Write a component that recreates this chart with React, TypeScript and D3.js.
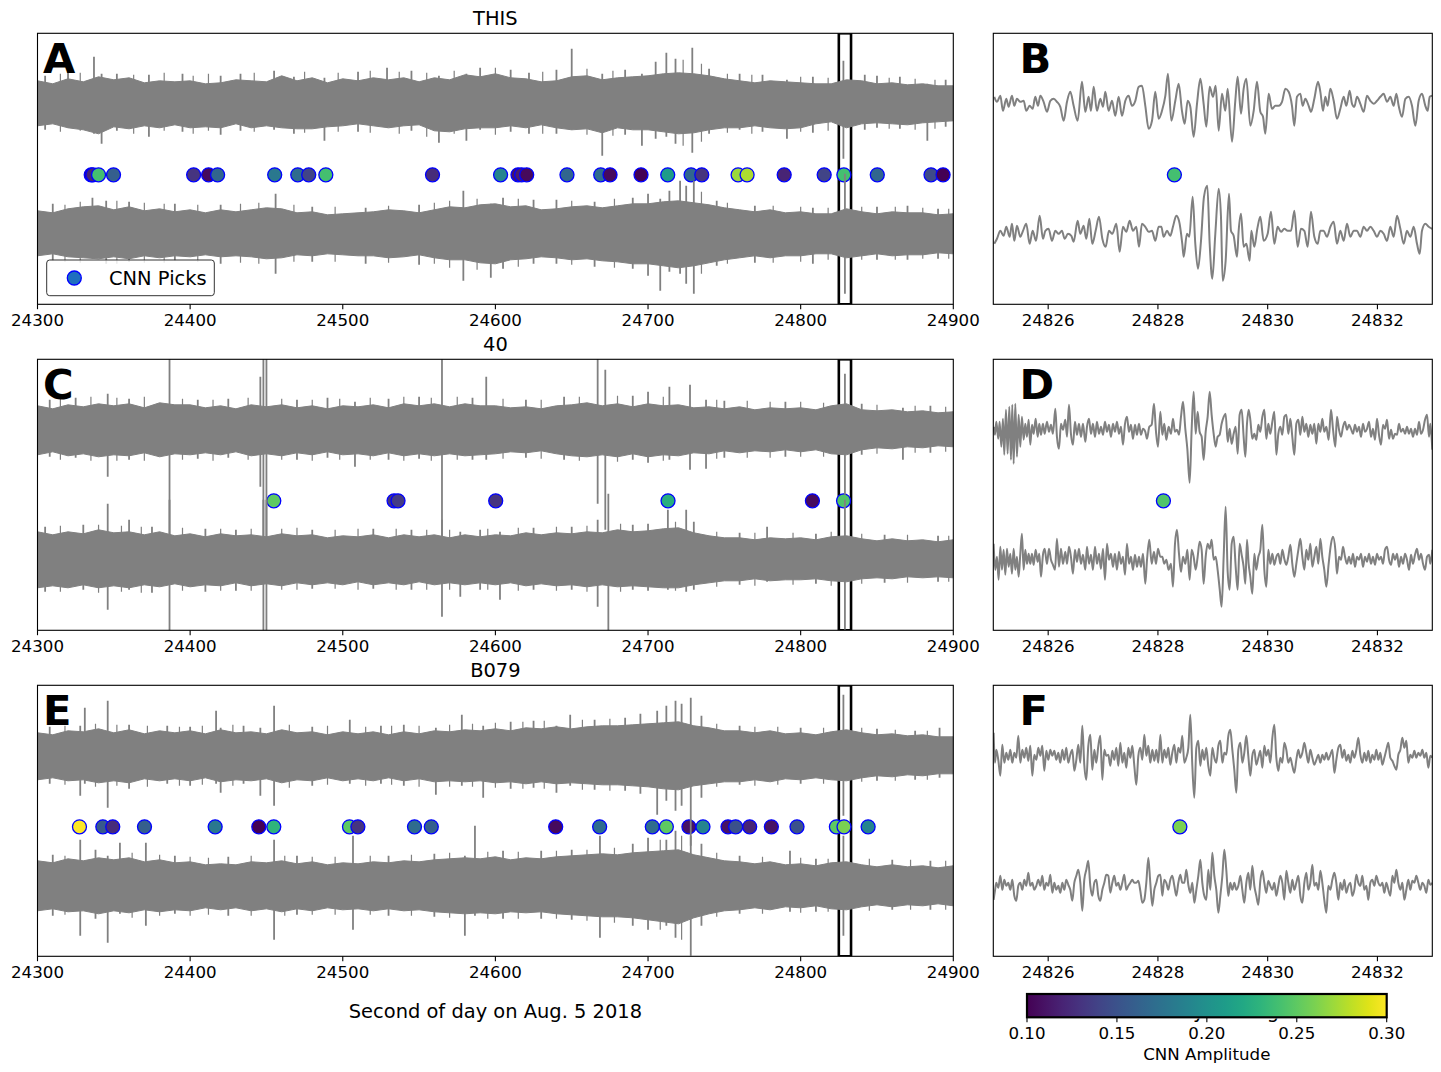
import React from "react";
import * as d3 from "d3";

// ---------------- data ----------------
const STATIONS = ["THIS", "40", "B079"];
const LEFT_LETTERS = ["A", "C", "E"];
const RIGHT_LETTERS = ["B", "D", "F"];
const FULL_RANGE = [24300, 24900];
const ZOOM_RANGE = [24825, 24833];
const FULL_TICKS = [24300, 24400, 24500, 24600, 24700, 24800, 24900];
const ZOOM_TICKS = [24826, 24828, 24830, 24832];
const AMP_RANGE = [0.1, 0.3];
const AMP_TICKS = [0.1, 0.15, 0.2, 0.25, 0.3];
const X_LABEL = "Second of day on Aug. 5 2018";
const CBAR_LABEL = "CNN Amplitude";
const LEGEND_LABEL = "CNN Picks";

// envelope sample times for the 10-minute traces (s)
const ENV_TIMES = [24300, 24310, 24320, 24330, 24340, 24350, 24360, 24370, 24380, 24390, 24400, 24410, 24420, 24430, 24440, 24450, 24460, 24470, 24480, 24490, 24500, 24510, 24520, 24530, 24540, 24550, 24560, 24570, 24580, 24590, 24600, 24610, 24620, 24630, 24640, 24650, 24660, 24670, 24680, 24690, 24700, 24710, 24720, 24730, 24740, 24750, 24760, 24770, 24780, 24790, 24800, 24810, 24820, 24830, 24840, 24850, 24860, 24870, 24880, 24890, 24900];

// THIS
const THIS_UPPER_TOP = [23, 20, 25, 22, 27, 24, 26, 21, 23, 22, 23, 20, 21, 24, 23, 22, 28, 23, 26, 21, 25, 23, 26, 24, 26, 22, 26, 24, 29, 27, 30, 26, 25, 22, 23, 27, 28, 24, 26, 27, 28, 30, 31, 30, 28, 25, 23, 21, 23, 22, 21, 20, 20, 24, 23, 20, 21, 19, 20, 18, 18];
const THIS_UPPER_BOT = [22, 20, 24, 26, 30, 23, 25, 22, 24, 21, 24, 23, 24, 20, 24, 22, 24, 25, 25, 23, 22, 20, 22, 24, 22, 21, 27, 28, 25, 24, 24, 22, 24, 21, 24, 26, 25, 29, 24, 26, 26, 28, 30, 29, 26, 24, 24, 22, 24, 25, 24, 20, 18, 24, 20, 19, 20, 21, 19, 18, 17];
const THIS_UPPER_SPIKES = [[24305, 28, 26], [24320, 32, 24], [24337, 47, 30], [24342, 30, 40], [24352, 30, 27], [24373, 29, 33], [24395, 30, 28], [24420, 28, 31], [24433, 30, 27], [24455, 33, 26], [24468, 27, 30], [24488, 26, 37], [24510, 32, 28], [24529, 36, 24], [24545, 33, 27], [24563, 28, 39], [24581, 30, 37], [24590, 36, 26], [24610, 34, 28], [24622, 31, 30], [24640, 34, 30], [24650, 55, 26], [24670, 30, 52], [24685, 34, 31], [24696, 30, 42], [24705, 42, 35], [24712, 51, 33], [24718, 45, 40], [24729, 56, 49], [24740, 35, 30], [24760, 30, 26], [24775, 29, 28], [24791, 24, 35], [24808, 27, 29], [24828, 43, 55], [24842, 29, 26], [24850, 28, 24], [24865, 27, 25], [24883, 20, 37], [24895, 24, 23]];
const THIS_UPPER_FRINGE = [[24315, 30, 28], [24328, 31, 27], [24363, 29, 30], [24383, 31, 27], [24402, 28, 30], [24412, 30, 27], [24442, 31, 28], [24475, 32, 29], [24497, 31, 28], [24518, 33, 29], [24537, 32, 30], [24555, 31, 33], [24573, 33, 30], [24600, 36, 31], [24631, 32, 30], [24660, 35, 31], [24677, 33, 32], [24723, 44, 42], [24735, 40, 38], [24752, 30, 29], [24768, 29, 30], [24800, 27, 28], [24818, 26, 27], [24858, 26, 25], [24875, 25, 26], [24888, 24, 25]];
const THIS_LOWER_TOP = [23, 21, 25, 27, 28, 24, 27, 23, 25, 22, 24, 21, 24, 22, 24, 26, 25, 21, 22, 19, 20, 21, 22, 24, 23, 21, 24, 27, 26, 29, 30, 27, 28, 24, 25, 27, 28, 26, 28, 30, 30, 32, 33, 31, 29, 26, 24, 22, 24, 21, 22, 20, 20, 25, 22, 20, 22, 21, 21, 19, 20];
const THIS_LOWER_BOT = [22, 20, 23, 24, 25, 23, 25, 22, 24, 22, 23, 21, 23, 22, 23, 25, 24, 21, 22, 20, 21, 22, 22, 24, 23, 21, 24, 26, 26, 29, 30, 26, 25, 23, 24, 26, 25, 27, 28, 30, 30, 32, 34, 32, 29, 26, 24, 22, 24, 22, 22, 20, 20, 24, 22, 20, 22, 21, 21, 19, 20];
const THIS_LOWER_SPIKES = [[24310, 30, 27], [24336, 36, 25], [24345, 33, 30], [24360, 32, 28], [24390, 30, 27], [24420, 29, 30], [24456, 40, 40], [24480, 27, 28], [24515, 26, 30], [24550, 29, 31], [24579, 43, 47], [24597, 30, 44], [24605, 36, 35], [24625, 34, 30], [24640, 34, 30], [24665, 32, 33], [24690, 36, 35], [24700, 40, 42], [24708, 35, 57], [24714, 43, 38], [24721, 53, 40], [24725, 48, 50], [24730, 53, 60], [24745, 33, 32], [24770, 28, 29], [24808, 26, 30], [24829, 60, 60], [24850, 27, 26], [24870, 28, 26], [24890, 25, 25]];
const THIS_LOWER_FRINGE = [[24318, 29, 28], [24328, 32, 29], [24352, 33, 30], [24370, 31, 29], [24383, 30, 29], [24405, 29, 28], [24433, 30, 29], [24445, 31, 30], [24468, 29, 28], [24495, 27, 28], [24530, 28, 29], [24560, 31, 30], [24570, 33, 34], [24588, 35, 36], [24615, 35, 33], [24650, 33, 31], [24678, 35, 34], [24735, 42, 40], [24752, 31, 30], [24782, 28, 29], [24800, 27, 28], [24818, 26, 26], [24840, 27, 26], [24862, 27, 26], [24880, 26, 25], [24897, 25, 25]];
const THIS_PICK_TIMES = [24335.2, 24336.3, 24340.0, 24349.8, 24402.3, 24412.1, 24418.0, 24455.4, 24470.5, 24477.7, 24488.9, 24558.8, 24603.4, 24614.8, 24617.2, 24620.5, 24646.9, 24669.0, 24675.1, 24695.4, 24712.9, 24728.2, 24735.2, 24759.0, 24764.9, 24789.2, 24815.4, 24828.3, 24850.2, 24885.4, 24893.3];
const THIS_PICK_AMPS = [0.10, 0.12, 0.24, 0.16, 0.13, 0.105, 0.165, 0.18, 0.17, 0.14, 0.24, 0.125, 0.19, 0.11, 0.115, 0.105, 0.165, 0.17, 0.105, 0.10, 0.21, 0.165, 0.13, 0.27, 0.275, 0.12, 0.14, 0.24, 0.165, 0.145, 0.10];

// 40
const S40_UPPER_TOP = [24, 21, 25, 23, 26, 24, 26, 22, 27, 25, 25, 22, 24, 21, 25, 23, 25, 22, 24, 21, 24, 23, 25, 22, 26, 24, 26, 23, 26, 24, 24, 22, 23, 21, 24, 25, 27, 24, 26, 23, 26, 24, 25, 22, 23, 21, 23, 20, 22, 21, 22, 20, 24, 26, 20, 19, 20, 18, 19, 17, 18];
const S40_UPPER_BOT = [25, 22, 26, 24, 27, 25, 26, 23, 27, 24, 25, 23, 25, 22, 26, 24, 26, 23, 25, 22, 25, 24, 26, 23, 26, 24, 26, 24, 26, 25, 24, 22, 23, 21, 24, 26, 27, 25, 27, 24, 27, 25, 26, 23, 24, 21, 23, 21, 22, 20, 22, 20, 24, 25, 20, 18, 19, 17, 18, 16, 17];
const S40_UPPER_SPIKES = [[24308, 30, 27], [24325, 32, 28], [24346, 36, 47], [24360, 31, 30], [24386.5, 80, 135], [24405, 30, 29], [24425, 31, 28], [24446, 53, 57], [24448, 80, 135], [24450, 80, 135], [24470, 30, 30], [24490, 32, 28], [24508, 28, 37], [24530, 31, 30], [24550, 33, 29], [24565, 80, 135], [24585, 32, 30], [24594, 53, 30], [24620, 30, 28], [24645, 33, 30], [24667, 80, 74], [24672, 60, 100], [24690, 34, 30], [24700, 38, 33], [24714, 43, 30], [24727.5, 45, 40], [24738, 30, 39], [24750, 29, 28], [24790, 28, 27], [24829, 56, 65], [24840, 26, 25], [24867, 22, 30], [24885, 24, 23]];
const S40_UPPER_FRINGE = [[24315, 31, 30], [24335, 33, 31], [24352, 32, 31], [24370, 33, 31], [24395, 31, 30], [24415, 30, 31], [24438, 32, 30], [24460, 31, 30], [24480, 30, 31], [24498, 31, 30], [24518, 32, 30], [24540, 33, 31], [24558, 32, 31], [24575, 33, 30], [24605, 31, 29], [24630, 30, 29], [24655, 33, 31], [24680, 34, 32], [24710, 33, 31], [24745, 30, 29], [24765, 29, 28], [24780, 28, 28], [24800, 28, 27], [24815, 27, 27], [24850, 25, 24], [24875, 24, 23], [24895, 23, 22]];
const S40_LOWER_TOP = [28, 25, 28, 26, 30, 27, 28, 25, 28, 24, 26, 23, 26, 24, 25, 23, 26, 24, 25, 22, 24, 23, 25, 22, 25, 23, 25, 22, 25, 23, 25, 24, 27, 25, 27, 26, 28, 27, 30, 28, 29, 31, 32, 27, 24, 22, 22, 20, 22, 21, 22, 20, 23, 24, 21, 19, 21, 19, 20, 18, 20];
const S40_LOWER_BOT = [28, 26, 28, 25, 28, 26, 28, 25, 27, 24, 27, 25, 26, 23, 26, 24, 26, 23, 25, 23, 25, 22, 25, 23, 25, 22, 25, 23, 25, 23, 25, 23, 26, 24, 26, 25, 27, 25, 27, 26, 27, 28, 28, 25, 23, 21, 21, 19, 21, 20, 20, 19, 21, 22, 19, 18, 19, 17, 18, 17, 18];
const S40_LOWER_SPIKES = [[24305, 33, 32], [24330, 35, 30], [24346, 56, 50], [24360, 40, 30], [24375, 33, 33], [24386.5, 60, 75], [24410, 31, 32], [24430, 30, 31], [24448, 60, 75], [24450, 60, 75], [24480, 30, 29], [24520, 31, 29], [24545, 30, 30], [24565, 40, 57], [24577, 28, 37], [24590, 30, 30], [24603, 28, 40], [24625, 32, 30], [24650, 33, 30], [24667, 40, 47], [24674, 66, 75], [24690, 35, 30], [24700, 36, 31], [24713, 50, 30], [24725, 50, 32], [24730, 38, 30], [24760, 27, 25], [24778, 33, 22], [24810, 26, 24], [24829, 60, 70], [24855, 25, 23], [24890, 24, 22]];
const S40_LOWER_FRINGE = [[24315, 34, 32], [24340, 35, 33], [24355, 34, 32], [24368, 33, 33], [24395, 32, 31], [24420, 31, 31], [24440, 31, 31], [24460, 31, 30], [24470, 32, 30], [24495, 30, 29], [24510, 31, 30], [24535, 31, 30], [24555, 30, 30], [24570, 30, 30], [24595, 31, 30], [24615, 32, 31], [24640, 33, 31], [24660, 34, 32], [24682, 36, 32], [24718, 38, 31], [24745, 28, 27], [24770, 27, 26], [24795, 27, 25], [24820, 28, 26], [24840, 26, 24], [24870, 25, 23], [24897, 24, 22]];
const S40_PICK_TIMES = [24454.8, 24533.6, 24536.2, 24600.2, 24713.1, 24807.7, 24828.1];
const S40_PICK_AMPS = [0.25, 0.13, 0.135, 0.13, 0.225, 0.105, 0.245];

// B079
const B079_UPPER_TOP = [23, 21, 25, 24, 27, 23, 26, 22, 25, 23, 25, 22, 26, 23, 24, 22, 26, 23, 24, 21, 24, 22, 24, 21, 24, 22, 25, 24, 26, 25, 27, 25, 28, 27, 29, 27, 29, 30, 30, 31, 32, 33, 34, 30, 28, 25, 25, 23, 25, 22, 23, 21, 24, 26, 23, 21, 22, 20, 21, 19, 19];
const B079_UPPER_BOT = [24, 22, 25, 24, 27, 25, 27, 23, 25, 23, 25, 22, 26, 24, 25, 23, 27, 24, 25, 22, 25, 23, 25, 22, 25, 23, 26, 25, 26, 25, 27, 26, 28, 26, 28, 27, 28, 29, 29, 30, 31, 33, 34, 30, 28, 26, 26, 24, 26, 23, 24, 22, 24, 25, 22, 20, 21, 19, 20, 18, 18];
const B079_UPPER_SPIKES = [[24308, 29, 28], [24328, 30, 40], [24331, 48, 28], [24346, 55, 52], [24360, 31, 33], [24385, 30, 28], [24400, 29, 30], [24417, 45, 28], [24420, 28, 37], [24435, 30, 28], [24446, 28, 40], [24455, 50, 50], [24480, 29, 30], [24504.6, 36, 28], [24525, 30, 28], [24540, 31, 30], [24561, 28, 39], [24578, 41, 30], [24592, 30, 42], [24610, 34, 33], [24625, 35, 32], [24640, 30, 37], [24649, 41, 30], [24665, 36, 34], [24685, 38, 35], [24695, 42, 38], [24706, 45, 59], [24712, 50, 45], [24718, 55, 55], [24722, 52, 50], [24728, 58, 90], [24735, 40, 42], [24760, 30, 29], [24800, 28, 28], [24828, 61, 60], [24850, 27, 25], [24875, 25, 24], [24891, 28, 22]];
const B079_UPPER_FRINGE = [[24318, 30, 29], [24338, 32, 31], [24352, 31, 30], [24372, 30, 31], [24393, 29, 30], [24408, 30, 29], [24428, 31, 30], [24465, 31, 32], [24490, 30, 29], [24515, 29, 30], [24532, 30, 29], [24550, 30, 31], [24570, 31, 31], [24585, 32, 31], [24600, 33, 32], [24618, 34, 33], [24632, 35, 33], [24657, 36, 34], [24675, 37, 35], [24745, 32, 31], [24770, 29, 30], [24785, 29, 29], [24815, 28, 28], [24840, 28, 26], [24862, 26, 25], [24883, 25, 24]];
const B079_LOWER_TOP = [25, 23, 27, 25, 28, 26, 28, 24, 26, 23, 24, 21, 22, 21, 24, 23, 25, 22, 24, 21, 23, 22, 24, 23, 25, 24, 26, 27, 28, 27, 29, 26, 28, 27, 29, 30, 31, 32, 31, 33, 34, 35, 36, 31, 28, 25, 24, 22, 24, 21, 22, 20, 23, 24, 21, 19, 21, 19, 20, 18, 20];
const B079_LOWER_BOT = [25, 23, 26, 25, 28, 25, 27, 24, 26, 24, 25, 22, 24, 22, 25, 23, 26, 23, 25, 22, 24, 23, 25, 23, 25, 24, 26, 27, 28, 27, 28, 26, 27, 26, 28, 29, 30, 31, 31, 32, 34, 36, 38, 32, 28, 25, 24, 22, 24, 21, 22, 20, 23, 24, 21, 19, 21, 19, 20, 18, 20];
const B079_LOWER_SPIKES = [[24310, 31, 30], [24328, 46, 50], [24338, 36, 33], [24346, 30, 57], [24354, 43, 28], [24371, 43, 40], [24390, 30, 28], [24425, 29, 30], [24455, 46, 54], [24470, 30, 29], [24506.7, 50, 44], [24530, 30, 30], [24560, 32, 31], [24580, 30, 50], [24586.6, 60, 30], [24605, 35, 33], [24630, 35, 33], [24650, 36, 34], [24668.5, 50, 52], [24690, 42, 40], [24700, 48, 44], [24712, 46, 40], [24718, 55, 52], [24728, 50, 70], [24735, 42, 40], [24760, 30, 28], [24793, 35, 26], [24810, 27, 26], [24828, 50, 50], [24860, 26, 24], [24885, 25, 24]];
const B079_LOWER_FRINGE = [[24318, 30, 29], [24362, 33, 32], [24380, 31, 30], [24400, 29, 30], [24412, 28, 29], [24440, 30, 30], [24462, 30, 30], [24480, 29, 29], [24495, 29, 29], [24518, 30, 29], [24545, 31, 30], [24570, 33, 32], [24595, 34, 33], [24615, 34, 33], [24640, 35, 33], [24660, 36, 35], [24678, 38, 37], [24708, 46, 44], [24722, 50, 54], [24745, 33, 31], [24775, 29, 28], [24800, 28, 27], [24818, 27, 26], [24845, 27, 25], [24872, 26, 24], [24895, 25, 24]];
const B079_PICK_TIMES = [24327.5, 24342.8, 24349.3, 24370.1, 24416.4, 24445.0, 24454.8, 24504.4, 24509.9, 24547.0, 24558.0, 24639.5, 24668.3, 24702.8, 24712.0, 24726.8, 24736.0, 24752.4, 24757.4, 24766.6, 24780.8, 24797.6, 24823.4, 24828.4, 24844.2];
const B079_PICK_AMPS = [0.30, 0.155, 0.125, 0.16, 0.18, 0.10, 0.23, 0.25, 0.13, 0.17, 0.16, 0.105, 0.17, 0.17, 0.25, 0.11, 0.19, 0.11, 0.15, 0.12, 0.11, 0.15, 0.25, 0.26, 0.19];

// zoomed traces: [seconds after 24825, amplitude]
const THIS_ZOOM_UPPER = [[0.018,7],[0.067,2],[0.128,8],[0.176,-7],[0.237,5],[0.279,-3],[0.340,8],[0.383,-2],[0.431,5],[0.492,2],[0.553,3],[0.601,-7],[0.662,-2],[0.717,-5],[0.765,7],[0.814,-2],[0.857,8],[0.917,2],[0.978,-8],[1.039,3],[1.100,5],[1.160,2],[1.221,-3],[1.282,-17],[1.343,2],[1.403,12],[1.464,-2],[1.537,-17],[1.616,22],[1.677,-8],[1.737,7],[1.780,-7],[1.829,17],[1.889,-7],[1.950,5],[1.999,-3],[2.041,12],[2.102,-7],[2.163,3],[2.223,-12],[2.284,7],[2.345,-12],[2.406,3],[2.466,8],[2.527,-2],[2.588,3],[2.649,17],[2.709,18],[2.770,-2],[2.831,-25],[2.892,-17],[2.952,12],[3.013,-15],[3.074,-7],[3.135,8],[3.183,30],[3.244,-17],[3.317,3],[3.378,20],[3.438,-7],[3.487,-20],[3.542,3],[3.590,-3],[3.651,-33],[3.712,0],[3.773,25],[3.833,0],[3.882,-23],[3.943,17],[4.003,7],[4.052,18],[4.107,-27],[4.167,10],[4.228,-7],[4.271,15],[4.350,-38],[4.410,3],[4.453,27],[4.514,-10],[4.562,15],[4.611,25],[4.684,-22],[4.745,-7],[4.805,22],[4.866,-8],[4.915,-13],[4.957,-30],[5.018,10],[5.079,-5],[5.139,-2],[5.200,-2],[5.261,2],[5.322,15],[5.382,12],[5.443,-2],[5.486,-22],[5.534,7],[5.595,10],[5.638,-2],[5.686,5],[5.747,-2],[5.790,-8],[5.850,5],[5.917,22],[5.960,12],[6.008,-7],[6.051,7],[6.093,-2],[6.142,15],[6.203,3],[6.263,-15],[6.324,-5],[6.385,7],[6.433,-2],[6.494,13],[6.537,0],[6.579,-3],[6.628,7],[6.689,0],[6.749,-8],[6.810,8],[6.871,3],[6.932,0],[6.992,3],[7.053,7],[7.114,10],[7.175,2],[7.235,7],[7.296,-2],[7.345,10],[7.387,-2],[7.448,-13],[7.509,5],[7.569,7],[7.630,-2],[7.691,-22],[7.752,3],[7.812,10],[7.873,-2],[7.916,-7],[7.952,7],[8.000,8]];
const THIS_ZOOM_LOWER = [[0.018,-10],[0.067,-5],[0.128,3],[0.188,-2],[0.237,7],[0.298,-3],[0.340,10],[0.383,-7],[0.431,8],[0.492,-3],[0.541,3],[0.601,10],[0.662,-10],[0.717,3],[0.778,-7],[0.845,18],[0.905,-5],[0.948,3],[1.008,5],[1.069,-7],[1.130,3],[1.191,0],[1.251,3],[1.300,-5],[1.361,0],[1.422,-2],[1.464,-8],[1.537,13],[1.586,0],[1.646,8],[1.695,-5],[1.750,15],[1.804,-10],[1.865,3],[1.926,17],[1.987,-5],[2.047,-13],[2.108,3],[2.169,0],[2.242,10],[2.302,-18],[2.363,7],[2.424,2],[2.485,13],[2.545,3],[2.606,7],[2.655,-13],[2.709,10],[2.770,7],[2.831,2],[2.892,3],[2.952,-7],[3.013,7],[3.062,7],[3.104,-3],[3.165,3],[3.226,-2],[3.274,7],[3.335,18],[3.384,13],[3.444,-10],[3.469,-23],[3.529,0],[3.572,-3],[3.633,37],[3.681,-10],[3.730,-35],[3.785,-7],[3.839,37],[3.900,48],[3.943,-10],[3.991,-45],[4.046,0],[4.107,45],[4.149,17],[4.180,-47],[4.234,-27],[4.295,40],[4.331,3],[4.380,-2],[4.441,-23],[4.471,3],[4.514,20],[4.562,-13],[4.611,-10],[4.672,-27],[4.702,3],[4.757,-13],[4.811,5],[4.866,17],[4.927,-7],[5.000,0],[5.060,22],[5.121,-10],[5.182,7],[5.243,2],[5.303,5],[5.364,3],[5.425,3],[5.486,23],[5.546,-13],[5.607,5],[5.668,3],[5.729,-13],[5.789,22],[5.850,-3],[5.911,-10],[5.960,3],[6.020,3],[6.081,-3],[6.142,7],[6.203,12],[6.263,-10],[6.324,3],[6.385,-7],[6.446,10],[6.506,-3],[6.567,3],[6.628,3],[6.689,-3],[6.749,7],[6.810,3],[6.871,7],[6.932,3],[6.992,-3],[7.053,3],[7.114,0],[7.175,-7],[7.235,7],[7.296,-3],[7.357,18],[7.418,5],[7.478,-10],[7.539,3],[7.600,-3],[7.661,7],[7.721,-10],[7.770,-20],[7.812,3],[7.873,10],[7.934,7],[8.000,5]];

const S40_ZOOM_UPPER = [[0.006,3],[0.030,-5],[0.055,8],[0.091,-9],[0.115,8],[0.146,-17],[0.176,11],[0.200,-25],[0.231,20],[0.261,-24],[0.292,23],[0.322,-30],[0.346,25],[0.371,-34],[0.401,26],[0.431,-27],[0.462,15],[0.492,-17],[0.522,13],[0.553,-10],[0.583,6],[0.614,-7],[0.644,10],[0.674,-15],[0.705,5],[0.735,-4],[0.772,11],[0.808,-7],[0.838,6],[0.869,-5],[0.905,6],[0.936,-4],[0.978,8],[1.015,-2],[1.051,5],[1.087,-4],[1.130,21],[1.160,-7],[1.197,-19],[1.233,6],[1.270,0],[1.312,10],[1.343,-7],[1.379,25],[1.415,-4],[1.452,-15],[1.488,8],[1.525,-5],[1.561,6],[1.598,-7],[1.634,6],[1.677,-12],[1.707,3],[1.744,11],[1.780,-4],[1.816,6],[1.853,-7],[1.889,8],[1.926,-4],[1.962,3],[1.999,-5],[2.035,8],[2.072,-2],[2.108,5],[2.144,-7],[2.181,6],[2.217,-2],[2.254,8],[2.290,-4],[2.327,3],[2.363,-15],[2.400,6],[2.436,13],[2.473,-2],[2.509,5],[2.545,-9],[2.582,5],[2.618,-5],[2.655,6],[2.691,-5],[2.728,1],[2.770,-2],[2.801,-9],[2.843,3],[2.886,5],[2.928,26],[2.965,-2],[3.001,-17],[3.044,18],[3.080,-5],[3.116,6],[3.153,-10],[3.195,3],[3.238,-4],[3.274,11],[3.311,-2],[3.347,0],[3.384,-5],[3.420,13],[3.457,28],[3.499,1],[3.536,-19],[3.578,-53],[3.615,1],[3.651,38],[3.688,-4],[3.724,18],[3.760,-2],[3.797,-7],[3.833,-30],[3.870,-2],[3.906,13],[3.943,38],[3.979,15],[4.016,-4],[4.052,-17],[4.088,-7],[4.125,-5],[4.161,6],[4.198,13],[4.234,16],[4.271,-12],[4.307,1],[4.344,-14],[4.380,-4],[4.417,3],[4.453,-24],[4.489,15],[4.526,20],[4.562,-7],[4.593,-27],[4.623,6],[4.653,20],[4.684,10],[4.720,-9],[4.757,-4],[4.793,-10],[4.830,5],[4.866,-2],[4.903,13],[4.939,20],[4.975,-9],[5.012,6],[5.048,-4],[5.085,8],[5.121,18],[5.158,-25],[5.194,-4],[5.231,3],[5.267,-5],[5.303,13],[5.340,15],[5.376,-4],[5.413,11],[5.449,-7],[5.486,-25],[5.522,6],[5.559,10],[5.595,-5],[5.632,13],[5.668,-2],[5.704,6],[5.741,-7],[5.777,5],[5.814,-4],[5.850,6],[5.887,-14],[5.923,6],[5.960,-2],[5.996,11],[6.032,-2],[6.069,3],[6.111,-10],[6.154,20],[6.190,1],[6.233,-17],[6.263,13],[6.300,0],[6.336,-7],[6.373,3],[6.409,8],[6.446,0],[6.482,5],[6.518,1],[6.555,-4],[6.591,5],[6.628,-2],[6.664,3],[6.701,-7],[6.737,6],[6.774,-2],[6.810,1],[6.847,8],[6.883,-7],[6.919,1],[6.956,-10],[6.992,11],[7.029,-5],[7.065,-15],[7.102,5],[7.138,1],[7.175,10],[7.211,-9],[7.248,0],[7.284,-9],[7.320,-4],[7.357,-5],[7.393,6],[7.430,-2],[7.466,1],[7.503,-4],[7.539,3],[7.576,-4],[7.612,1],[7.648,-7],[7.685,1],[7.721,-5],[7.758,8],[7.794,-4],[7.831,0],[7.867,10],[7.904,15],[7.940,-7],[7.964,6],[8.000,-20]];
const S40_ZOOM_LOWER = [[0.006,16],[0.036,-10],[0.067,3],[0.097,-20],[0.128,13],[0.158,-10],[0.188,10],[0.219,-15],[0.249,11],[0.279,-7],[0.310,6],[0.340,-14],[0.371,11],[0.401,-10],[0.431,3],[0.462,-17],[0.492,6],[0.522,26],[0.553,-10],[0.583,10],[0.614,-4],[0.644,6],[0.674,-4],[0.705,6],[0.735,-5],[0.772,10],[0.808,-2],[0.838,6],[0.869,-17],[0.905,5],[0.936,11],[0.978,-4],[1.015,11],[1.051,0],[1.087,-5],[1.124,-10],[1.160,21],[1.197,-7],[1.233,11],[1.270,-4],[1.312,8],[1.343,-4],[1.379,13],[1.415,3],[1.452,-14],[1.488,10],[1.525,-2],[1.561,11],[1.598,-4],[1.634,5],[1.677,-10],[1.707,13],[1.744,-4],[1.780,5],[1.816,-10],[1.853,13],[1.889,-4],[1.926,6],[1.962,-9],[1.999,11],[2.035,-20],[2.072,16],[2.108,0],[2.144,6],[2.181,-7],[2.217,6],[2.254,-10],[2.290,8],[2.327,-4],[2.363,3],[2.400,-15],[2.436,16],[2.473,-4],[2.509,3],[2.545,-10],[2.582,5],[2.618,-7],[2.655,3],[2.691,-7],[2.728,6],[2.770,-24],[2.801,0],[2.843,20],[2.886,-4],[2.928,8],[2.965,-4],[3.001,11],[3.044,3],[3.080,3],[3.116,-4],[3.153,0],[3.195,-10],[3.238,-4],[3.274,-27],[3.311,16],[3.347,30],[3.384,6],[3.420,-12],[3.457,3],[3.499,-4],[3.536,10],[3.578,-20],[3.615,10],[3.651,3],[3.688,-10],[3.724,3],[3.760,18],[3.797,10],[3.833,-24],[3.870,3],[3.906,16],[3.943,11],[3.979,20],[4.016,0],[4.052,3],[4.088,-10],[4.125,-29],[4.161,-47],[4.198,3],[4.234,53],[4.271,-12],[4.307,-30],[4.344,16],[4.380,23],[4.417,-7],[4.453,-30],[4.489,16],[4.526,5],[4.562,-7],[4.593,-24],[4.623,20],[4.653,-4],[4.684,-17],[4.720,-34],[4.757,6],[4.793,-10],[4.830,3],[4.866,10],[4.903,35],[4.939,-10],[4.975,-27],[5.012,10],[5.048,-4],[5.085,6],[5.121,-5],[5.158,3],[5.194,6],[5.231,-4],[5.267,10],[5.303,1],[5.340,-5],[5.376,3],[5.413,15],[5.449,-4],[5.486,-17],[5.522,-4],[5.559,10],[5.595,21],[5.632,3],[5.668,-10],[5.704,10],[5.741,0],[5.777,16],[5.814,-7],[5.850,3],[5.887,13],[5.923,-4],[5.960,21],[5.996,3],[6.032,-10],[6.069,-27],[6.111,-4],[6.154,16],[6.190,23],[6.233,10],[6.263,-14],[6.300,3],[6.336,0],[6.373,13],[6.409,3],[6.446,-4],[6.482,3],[6.518,-4],[6.555,6],[6.591,-7],[6.628,3],[6.664,0],[6.701,6],[6.737,-7],[6.774,3],[6.810,-2],[6.847,6],[6.883,-4],[6.919,3],[6.956,-5],[6.992,6],[7.029,0],[7.065,3],[7.102,-4],[7.138,10],[7.175,13],[7.211,0],[7.248,-5],[7.284,6],[7.320,0],[7.357,6],[7.393,-7],[7.430,3],[7.466,-4],[7.503,6],[7.539,0],[7.576,-10],[7.612,5],[7.648,-4],[7.685,5],[7.721,11],[7.758,0],[7.794,6],[7.831,-4],[7.867,-10],[7.904,3],[7.940,5],[7.964,-4],[8.000,10]];

const B079_ZOOM_TIMES = [0.006,0.030,0.055,0.091,0.128,0.164,0.200,0.237,0.273,0.310,0.346,0.383,0.419,0.456,0.492,0.529,0.565,0.601,0.638,0.674,0.711,0.747,0.784,0.820,0.857,0.893,0.929,0.966,1.002,1.039,1.075,1.112,1.148,1.185,1.221,1.258,1.294,1.330,1.367,1.403,1.440,1.476,1.513,1.549,1.586,1.622,1.658,1.695,1.731,1.768,1.804,1.841,1.877,1.914,1.950,1.987,2.023,2.059,2.096,2.132,2.169,2.205,2.242,2.278,2.315,2.351,2.387,2.424,2.460,2.497,2.533,2.570,2.606,2.643,2.679,2.716,2.752,2.788,2.825,2.861,2.898,2.934,2.971,3.007,3.044,3.080,3.116,3.153,3.189,3.226,3.262,3.299,3.335,3.372,3.408,3.444,3.481,3.517,3.554,3.590,3.627,3.663,3.700,3.736,3.773,3.809,3.845,3.882,3.918,3.955,3.991,4.028,4.064,4.101,4.137,4.174,4.210,4.246,4.283,4.319,4.356,4.392,4.429,4.465,4.502,4.538,4.574,4.611,4.647,4.684,4.720,4.757,4.793,4.830,4.866,4.903,4.939,4.975,5.012,5.048,5.085,5.121,5.158,5.194,5.231,5.267,5.303,5.340,5.376,5.413,5.449,5.486,5.522,5.559,5.595,5.632,5.668,5.704,5.741,5.777,5.814,5.850,5.887,5.923,5.960,5.996,6.032,6.069,6.105,6.142,6.178,6.215,6.251,6.288,6.324,6.360,6.397,6.433,6.470,6.506,6.543,6.579,6.616,6.652,6.689,6.725,6.762,6.798,6.834,6.871,6.907,6.944,6.980,7.017,7.053,7.090,7.126,7.162,7.199,7.235,7.272,7.308,7.345,7.381,7.418,7.454,7.491,7.527,7.563,7.600,7.636,7.673,7.709,7.746,7.782,7.819,7.855,7.891,7.928,7.964,8.000];
const B079_ZOOM_UPPER = [23,-7,6,-4,-20,11,-7,3,-4,6,-7,3,-2,20,-7,6,-2,8,-5,10,-20,1,-4,8,0,10,-15,5,-4,6,0,5,-4,3,-7,6,-4,8,-7,1,6,-15,-4,11,-7,30,-9,-24,10,21,-14,6,-7,10,20,-24,6,0,1,-10,5,-4,8,-10,13,-7,3,-12,8,-2,10,-10,-29,0,8,-4,21,0,10,-7,6,-5,6,-7,21,-7,6,-2,8,-9,3,11,-7,8,3,20,-7,-2,8,41,-10,-42,8,15,-10,6,-4,8,-10,-20,8,-2,-7,10,15,-7,3,1,20,26,6,-14,-37,6,13,-7,3,20,0,-20,0,6,-9,-2,5,-12,10,0,6,-7,18,31,-2,-15,-2,-7,13,6,-7,-2,-10,-17,-4,6,-2,3,13,3,-7,6,-2,-9,-4,1,-7,1,-4,3,-4,1,6,-17,-4,8,11,-2,6,-5,1,-7,5,-2,6,18,1,-7,3,-5,5,-7,1,-4,6,-4,3,-9,-2,6,13,-2,-5,-10,-14,1,6,18,8,15,-7,1,-2,5,-2,3,0,6,-2,3,-12,0,-2];
const B079_ZOOM_LOWER = [-14,-5,3,-2,10,-4,6,0,3,-4,6,-10,-15,0,3,-4,6,0,13,0,3,-4,0,6,0,10,-4,3,0,11,-7,3,-4,0,-7,3,-4,6,1,-4,-15,3,10,16,3,-25,6,16,25,0,-10,3,6,-10,-15,-4,3,11,10,-7,3,10,0,3,-4,3,11,-4,0,3,6,3,3,5,-5,-17,-14,3,28,3,-20,-4,3,10,11,-10,6,3,-4,6,10,0,-10,3,11,3,3,16,1,-7,3,-17,-4,10,26,3,-10,-14,16,-4,33,10,-4,-27,-10,10,36,16,-10,3,-4,3,-4,0,10,-4,-17,3,13,-4,20,0,-10,-19,5,15,3,-7,5,0,-4,3,-10,0,10,3,-14,15,3,-7,6,-4,3,10,-10,-17,3,13,-4,3,21,0,3,-4,15,3,-14,-27,0,-4,6,13,3,-14,3,-4,6,-7,0,3,-10,-4,11,3,0,10,-4,0,-14,3,6,0,10,3,0,3,-7,3,-4,-10,10,3,16,3,-4,3,-14,-4,6,-4,5,3,10,3,-4,3,0,-7,6,1,3];

const STATION_DATA = [
  { upperTop: THIS_UPPER_TOP, upperBot: THIS_UPPER_BOT, upperSpikes: THIS_UPPER_SPIKES, upperFringe: THIS_UPPER_FRINGE, lowerTop: THIS_LOWER_TOP, lowerBot: THIS_LOWER_BOT, lowerSpikes: THIS_LOWER_SPIKES, lowerFringe: THIS_LOWER_FRINGE, pickTimes: THIS_PICK_TIMES, pickAmps: THIS_PICK_AMPS, zoomUpper: THIS_ZOOM_UPPER, zoomLower: THIS_ZOOM_LOWER },
  { upperTop: S40_UPPER_TOP, upperBot: S40_UPPER_BOT, upperSpikes: S40_UPPER_SPIKES, upperFringe: S40_UPPER_FRINGE, lowerTop: S40_LOWER_TOP, lowerBot: S40_LOWER_BOT, lowerSpikes: S40_LOWER_SPIKES, lowerFringe: S40_LOWER_FRINGE, pickTimes: S40_PICK_TIMES, pickAmps: S40_PICK_AMPS, zoomUpper: S40_ZOOM_UPPER, zoomLower: S40_ZOOM_LOWER },
  { upperTop: B079_UPPER_TOP, upperBot: B079_UPPER_BOT, upperSpikes: B079_UPPER_SPIKES, upperFringe: B079_UPPER_FRINGE, lowerTop: B079_LOWER_TOP, lowerBot: B079_LOWER_BOT, lowerSpikes: B079_LOWER_SPIKES, lowerFringe: B079_LOWER_FRINGE, pickTimes: B079_PICK_TIMES, pickAmps: B079_PICK_AMPS,
    zoomUpper: B079_ZOOM_TIMES.map((t, i) => [t, B079_ZOOM_UPPER[i]]).filter((d) => d[1] !== undefined),
    zoomLower: B079_ZOOM_TIMES.map((t, i) => [t, B079_ZOOM_LOWER[i]]).filter((d) => d[1] !== undefined) },
];

// ---------------- layout ----------------
const W = 1441;
const H = 1072;
const LEFT_X = [37.5, 953.3];
const RIGHT_X = [993.3, 1432.3];
const PANEL_TOPS = [33.3, 359.3, 685.3];
const PANEL_H = 271;
const Y_HALF = 135.5;
const UPPER_OFFSET = 65;
const LOWER_OFFSET = -65;
const PICK_LEVEL = -6;
const GRAY = "#808080";
const FONT = "DejaVu Sans, Verdana, sans-serif";
const CBAR = { x: 1027, y: 994, w: 359.7, h: 23.3 };
const XLABEL_BASELINE = 1017.5;

export default function App() {
  const xL = d3.scaleLinear().domain(FULL_RANGE).range(LEFT_X);
  const xR = d3.scaleLinear().domain(ZOOM_RANGE).range(RIGHT_X);
  const color = d3.scaleSequential(d3.interpolateViridis).domain(AMP_RANGE);
  const cbarX = d3.scaleLinear().domain(AMP_RANGE).range([CBAR.x, CBAR.x + CBAR.w]);
  const gradStops = d3.range(0, 21).map((k) => k / 20);

  const rows = STATION_DATA.map((st, i) => {
    const top = PANEL_TOPS[i];
    const y = d3.scaleLinear().domain([-Y_HALF, Y_HALF]).range([top + PANEL_H, top]);
    const band = (tops, bots, off) => {
      const data = ENV_TIMES.map((t, k) => ({ t, up: tops[k], dn: bots[k] }));
      return d3.area().x((d) => xL(d.t)).y0((d) => y(off - d.dn)).y1((d) => y(off + d.up))(data);
    };
    const zoomLine = (pts, off) =>
      d3.line().x((d) => xR(ZOOM_RANGE[0] + d[0])).y((d) => y(off + d[1])).curve(d3.curveMonotoneX)(pts);
    const picks = st.pickTimes.map((t, k) => ({ t, a: st.pickAmps[k] }));
    const zoomPicks = picks.filter((p) => p.t >= ZOOM_RANGE[0] && p.t <= ZOOM_RANGE[1]);
    const bottom = top + PANEL_H;
    const spikeLines = (list, off, w, key) =>
      list.map((s, k) => (
        <line key={key + k} x1={xL(s[0])} x2={xL(s[0])} y1={y(off + s[1])} y2={y(off - s[2])} stroke={GRAY} strokeWidth={w} />
      ));

    return (
      <g key={i}>
        <defs>
          <clipPath id={`clipL${i}`}>
            <rect x={LEFT_X[0]} y={top} width={LEFT_X[1] - LEFT_X[0]} height={PANEL_H} />
          </clipPath>
          <clipPath id={`clipR${i}`}>
            <rect x={RIGHT_X[0]} y={top} width={RIGHT_X[1] - RIGHT_X[0]} height={PANEL_H} />
          </clipPath>
        </defs>

        {/* ----- left panel ----- */}
        <g clipPath={`url(#clipL${i})`}>
          <rect x={xL(ZOOM_RANGE[0])} y={top} width={xL(ZOOM_RANGE[1]) - xL(ZOOM_RANGE[0])} height={PANEL_H}
            fill="none" stroke="#000" strokeWidth={2.6} />
          {picks.map((p, k) => (
            <circle key={k} cx={xL(p.t)} cy={y(PICK_LEVEL)} r={7} fill={color(p.a)} stroke="#0000ff" strokeWidth={1.3} />
          ))}
          <path d={band(st.upperTop, st.upperBot, UPPER_OFFSET)} fill={GRAY} stroke={GRAY} strokeWidth={1} />
          <path d={band(st.lowerTop, st.lowerBot, LOWER_OFFSET)} fill={GRAY} stroke={GRAY} strokeWidth={1} />
          {spikeLines(st.upperFringe, UPPER_OFFSET, 1.2, "uf")}
          {spikeLines(st.lowerFringe, LOWER_OFFSET, 1.2, "lf")}
          {spikeLines(st.upperSpikes, UPPER_OFFSET, 1.8, "us")}
          {spikeLines(st.lowerSpikes, LOWER_OFFSET, 1.8, "ls")}
        </g>
        <rect x={LEFT_X[0]} y={top} width={LEFT_X[1] - LEFT_X[0]} height={PANEL_H} fill="none" stroke="#000" strokeWidth={1.1} />
        {FULL_TICKS.map((t) => (
          <g key={t}>
            <line x1={xL(t)} x2={xL(t)} y1={bottom} y2={bottom + 4.9} stroke="#000" strokeWidth={1.1} />
            <text x={xL(t)} y={bottom + 22} textAnchor="middle" fontSize={16.67} fontFamily={FONT}>{t}</text>
          </g>
        ))}
        <text x={43} y={top + 40} fontSize={41.7} fontWeight="bold" fontFamily={FONT}>{LEFT_LETTERS[i]}</text>
        <text x={(LEFT_X[0] + LEFT_X[1]) / 2} y={top - 8.3} textAnchor="middle" fontSize={19.44} fontFamily={FONT}>{STATIONS[i]}</text>

        {/* ----- right panel ----- */}
        <g clipPath={`url(#clipR${i})`}>
          {zoomPicks.map((p, k) => (
            <circle key={k} cx={xR(p.t)} cy={y(PICK_LEVEL)} r={7} fill={color(p.a)} stroke="#0000ff" strokeWidth={1.3} />
          ))}
          <path d={zoomLine(st.zoomUpper, UPPER_OFFSET)} fill="none" stroke={GRAY} strokeWidth={2} strokeLinejoin="round" />
          <path d={zoomLine(st.zoomLower, LOWER_OFFSET)} fill="none" stroke={GRAY} strokeWidth={2} strokeLinejoin="round" />
        </g>
        <rect x={RIGHT_X[0]} y={top} width={RIGHT_X[1] - RIGHT_X[0]} height={PANEL_H} fill="none" stroke="#000" strokeWidth={1.1} />
        {ZOOM_TICKS.map((t) => (
          <g key={t}>
            <line x1={xR(t)} x2={xR(t)} y1={bottom} y2={bottom + 4.9} stroke="#000" strokeWidth={1.1} />
            <text x={xR(t)} y={bottom + 22} textAnchor="middle" fontSize={16.67} fontFamily={FONT}>{t}</text>
          </g>
        ))}
        <text x={1019.5} y={top + 40} fontSize={41.7} fontWeight="bold" fontFamily={FONT}>{RIGHT_LETTERS[i]}</text>
      </g>
    );
  });

  return (
    <div style={{ position: "absolute", left: 0, top: 0, width: W, height: H, background: "#fff" }}>
      <svg width={W} height={H} viewBox={`0 0 ${W} ${H}`} style={{ display: "block" }}>
        <defs>
          <linearGradient id="viridisGrad" x1="0" x2="1" y1="0" y2="0">
            {gradStops.map((o) => (
              <stop key={o} offset={o} stopColor={d3.interpolateViridis(o)} stopOpacity={1} />
            ))}
          </linearGradient>
          <clipPath id="belowBar">
            <rect x={0} y={CBAR.y + CBAR.h + 1.3} width={W} height={H} />
          </clipPath>
        </defs>
        <rect x={0} y={0} width={W} height={H} fill="#fff" />
        {rows}

        {/* legend in panel A */}
        <rect x={46.7} y={260} width={167.6} height={35.7} rx={3} fill="#fff" fillOpacity={0.8} stroke="#333" strokeWidth={1} />
        <circle cx={74.3} cy={278} r={7} fill="#1f6fbf" stroke="#0000ff" strokeWidth={1.3} />
        <text x={109} y={284.7} fontSize={19.44} fontFamily={FONT}>{LEGEND_LABEL}</text>

        {/* x labels */}
        <text x={(LEFT_X[0] + LEFT_X[1]) / 2} y={XLABEL_BASELINE} textAnchor="middle" fontSize={19.44} fontFamily={FONT}>{X_LABEL}</text>
        <g clipPath="url(#belowBar)">
          <text x={(RIGHT_X[0] + RIGHT_X[1]) / 2} y={XLABEL_BASELINE} textAnchor="middle" fontSize={19.44} fontFamily={FONT}>{X_LABEL}</text>
        </g>

        {/* colorbar */}
        <rect x={CBAR.x} y={CBAR.y} width={CBAR.w} height={CBAR.h} fill="url(#viridisGrad)" stroke="#000" strokeWidth={2.2} />
        {AMP_TICKS.map((v) => (
          <g key={v}>
            <line x1={cbarX(v)} x2={cbarX(v)} y1={CBAR.y + CBAR.h} y2={CBAR.y + CBAR.h + 4.9} stroke="#000" strokeWidth={1.1} />
            <text x={cbarX(v)} y={1039} textAnchor="middle" fontSize={16.67} fontFamily={FONT}>{v.toFixed(2)}</text>
          </g>
        ))}
        <text x={1206.8} y={1060} textAnchor="middle" fontSize={16.67} fontFamily={FONT}>{CBAR_LABEL}</text>
      </svg>
    </div>
  );
}
